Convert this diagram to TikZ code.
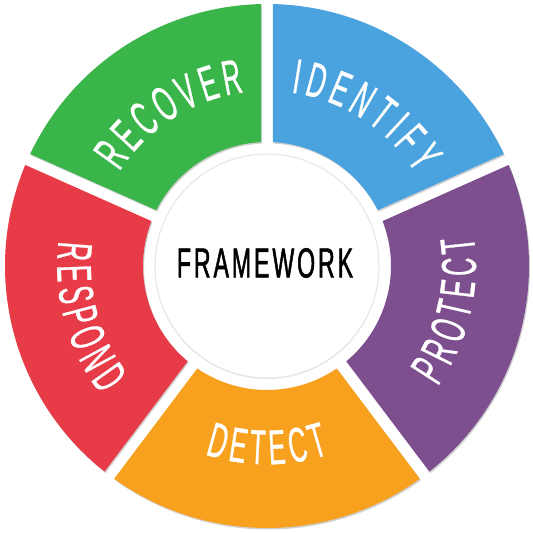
\documentclass[tikz,border=0pt]{standalone}
\usepackage{fontspec}
\usetikzlibrary{shadows}
\newfontfamily\segfontbase[FakeStretch=0.52,FakeBold=0.6]{Liberation Sans}
\newcommand\segfont{\segfontbase\fontsize{49pt}{49pt}\selectfont}
\newfontfamily\fwfont[FakeStretch=0.55,FakeBold=1.2,LetterSpace=7]{Liberation Sans}
\definecolor{cgreen}{HTML}{39B54A}
\definecolor{cblue}{HTML}{4AA3DF}
\definecolor{cpurple}{HTML}{7D4F8F}
\definecolor{corange}{HTML}{F7A11F}
\definecolor{cred}{HTML}{E73B47}
\tikzset{
  segshadow/.style={drop shadow={shadow xshift=1pt,shadow yshift=-1.5pt,opacity=0.3,fill=black!60}},
  ringletter/.style={anchor=center,inner sep=0pt,text=white,font=\segfont}
}
\newcommand\ringseg[3]{%
  \fill[#1,segshadow] (#2+1.31:262) arc[start angle=#2+1.31,end angle=#3-1.31,radius=262]
    -- (#3-2.77:124) arc[start angle=#3-2.77,end angle=#2+2.77,radius=124] -- cycle;}
\def\segscale{25.48}% 49pt * 0.52
% #1 letter/width list, #2 centre angle, #3 radius of letter centres, #4 direction (1 ccw, -1 cw), #5 extra spacing
\newcommand\arcword[5]{%
  \gdef\awtot{0}%
  \foreach \awl/\aww in {#1}{\pgfmathsetmacro\awtmp{\awtot+\aww*\segscale+#5}\xdef\awtot{\awtmp}}%
  \pgfmathsetmacro\awtmp{-(\awtot-#5)/2}\xdef\awcur{\awtmp}%
  \foreach \awl/\aww in {#1}{%
    \pgfmathsetmacro\ang{#2+(#4)*(\awcur+0.5*\aww*\segscale)/#3*57.29578}%
    \pgfmathsetmacro\rot{\ang+(#4)*90}%
    \node[ringletter,rotate=\rot] at (\ang:#3) {\awl};
    \pgfmathsetmacro\awtmp{\awcur+\aww*\segscale+#5}\xdef\awcur{\awtmp}%
  }}
\begin{document}
\begin{tikzpicture}[x=1pt,y=1pt]
\useasboundingbox (0,0) rectangle (533,533);
\fill[white] (0,0) rectangle (533,533);
\begin{scope}[shift={(267,267)}]
  \ringseg{cblue}{24}{90}
  \ringseg{cgreen}{90}{156}
  \ringseg{cred}{156}{233}
  \ringseg{corange}{233}{307}
  \ringseg{cpurple}{-53}{24}
  \filldraw[fill=white,draw=black!10,line width=1pt,drop shadow={shadow xshift=0pt,shadow yshift=-1pt,opacity=0.15,fill=black!60}] (0,0) circle[radius=112];
  \arcword{R/0.722,E/0.667,C/0.722,O/0.778,V/0.667,E/0.667,R/0.722}{122.5}{192}{-1}{6.5}
  \arcword{I/0.278,D/0.722,E/0.667,N/0.722,T/0.611,I/0.278,F/0.611,Y/0.667}{57}{192}{-1}{7.3}
  \arcword{P/0.667,R/0.722,O/0.778,T/0.611,E/0.667,C/0.722,T/0.611}{-13.5}{192}{1}{4.2}
  \arcword{D/0.722,E/0.667,T/0.611,E/0.667,C/0.722,T/0.611}{-90}{181.5}{1}{3}
  \arcword{R/0.722,E/0.667,S/0.667,P/0.667,O/0.778,N/0.722,D/0.722}{195.5}{193}{1}{4.3}
  \node[font=\fwfont\fontsize{42pt}{42pt}\selectfont,text=black] (fw) at (-2,3) {FRAMEWORK};
\end{scope}
\end{tikzpicture}
\end{document}
